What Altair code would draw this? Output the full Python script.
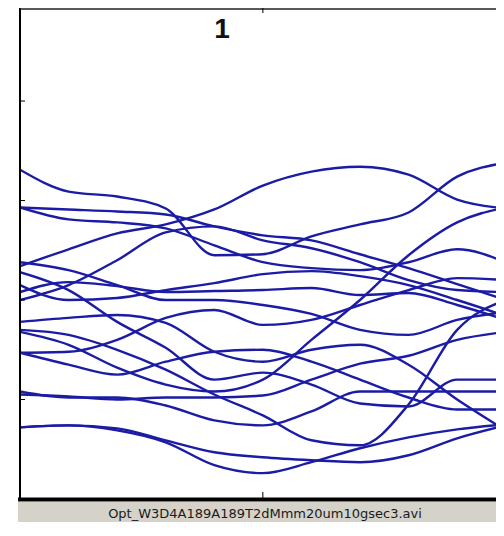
import altair as alt
import pandas as pd

# time samples (x axis, 0..100, tick at 50)
t = [0, 10, 20, 30, 40, 50, 60, 70, 80, 90, 100]

# trajectories (y axis 0..50, ticks at 10, 20, 30, 40)
tracks = {
    "A":   [33.1, 30.9, 30.4, 29.2, 24.5, 24.6, 26.4, 27.6, 28.8, 32.4, 33.8],
    "B":   [23.4, 25.1, 26.7, 27.6, 29.1, 31.5, 32.9, 33.4, 32.6, 30.1, 29.2],
    "C":   [29.3, 29.1, 28.9, 28.6, 27.4, 26.5, 26.0, 24.6, 23.2, 21.6, 20.0],
    "D":   [29.3, 28.1, 27.8, 27.2, 25.5, 23.8, 23.2, 23.0, 23.8, 25.1, 23.8],
    "E":   [20.0, 21.5, 24.0, 26.8, 27.4, 26.0, 25.2, 23.8, 22.0, 21.0, 20.8],
    "F":   [16.8, 15.5, 13.2, 11.5, 10.8, 12.0, 16.0, 20.0, 24.5, 27.8, 29.3],
    "M2":  [22.8, 21.0, 17.8, 15.2, 12.0, 12.7, 11.5, 9.6, 9.3, 12.0, 12.0],
    "M1":  [17.8, 18.2, 18.5, 17.7, 14.8, 13.8, 15.0, 15.5, 13.5, 10.0, 6.9],
    "M3":  [10.5, 10.3, 10.0, 10.2, 10.2, 10.4, 12.0, 13.6, 14.4, 16.0, 16.8],
    "Lb3": [10.8, 10.2, 10.2, 9.4, 7.9, 7.4, 8.8, 10.8, 10.8, 10.8, 10.8],
    "Lb1": [7.2, 7.4, 6.9, 5.7, 3.4, 2.6, 3.7, 5.1, 6.2, 7.0, 7.5],
    "Lb2": [7.2, 7.4, 7.1, 5.9, 4.7, 4.2, 3.9, 3.7, 4.4, 6.1, 7.4],
    "H1":  [21.5, 20.0, 20.2, 21.0, 21.7, 22.6, 22.9, 22.4, 21.5, 20.0, 18.4],
    "H2":  [20.8, 21.8, 21.4, 20.8, 20.9, 21.0, 21.2, 20.5, 20.7, 19.5, 18.0],
    "H3":  [23.8, 23.0, 21.5, 20.0, 20.0, 19.5, 18.6, 17.0, 16.5, 18.0, 18.8],
    "T1":  [14.7, 14.8, 16.0, 18.2, 19.0, 17.5, 18.0, 19.5, 21.0, 22.2, 22.0],
    "G":   [17.0, 16.5, 15.0, 13.0, 10.5, 8.4, 5.9, 5.4, 9.5, 17.0, 20.0],
    "R":   [14.7, 13.5, 12.5, 13.8, 14.8, 15.0, 13.8, 12.0, 10.2, 9.0, 9.0],
}

y_ticks = [10, 20, 30, 40]
x_ticks = [50]
title_text = "1"
caption = "Opt_W3D4A189A189T2dMmm20um10gsec3.avi"

rows = []
for name, ys in tracks.items():
    for tv, yv in zip(t, ys):
        rows.append({"track": name, "t": tv, "y": yv})
df = pd.DataFrame(rows)

W, H = 476, 491
xs = alt.Scale(domain=[0, 98], nice=False, zero=False)
ys_ = alt.Scale(domain=[0, 49.35], nice=False, zero=False)

one = pd.DataFrame({"k": [0]})

bar = alt.Chart(one).mark_rect(color="#d5d2ca").encode(
    x=alt.value(-2), x2=alt.value(W), y=alt.value(494), y2=alt.value(516)
)

lines = alt.Chart(df).mark_line(
    interpolate="monotone", clip=True, strokeWidth=2.4, color="#1b1ba6"
).encode(
    x=alt.X("t:Q", scale=xs, axis=None),
    y=alt.Y("y:Q", scale=ys_, axis=None),
    detail="track:N",
)

left_frame = alt.Chart(one).mark_rule(color="#000000", strokeWidth=2).encode(
    x=alt.value(0), y=alt.value(0), y2=alt.value(492)
)
top_frame = alt.Chart(one).mark_rule(color="#222222", strokeWidth=1.5).encode(
    x=alt.value(0), x2=alt.value(W), y=alt.value(1)
)
bottom_frame = alt.Chart(one).mark_rule(color="#000000", strokeWidth=4).encode(
    x=alt.value(-2), x2=alt.value(W), y=alt.value(491.5)
)

yt = alt.Chart(pd.DataFrame({"v": y_ticks})).mark_rule(color="#000000", strokeWidth=1).encode(
    y=alt.Y("v:Q", scale=ys_, axis=None), x=alt.value(0), x2=alt.value(5)
)
xt_top = alt.Chart(pd.DataFrame({"v": x_ticks})).mark_rule(color="#000000", strokeWidth=1).encode(
    x=alt.X("v:Q", scale=xs, axis=None), y=alt.value(0), y2=alt.value(5)
)
xt_bot = alt.Chart(pd.DataFrame({"v": x_ticks})).mark_rule(color="#000000", strokeWidth=1).encode(
    x=alt.X("v:Q", scale=xs, axis=None), y=alt.value(484), y2=alt.value(491)
)

title = alt.Chart(pd.DataFrame({"s": [title_text]})).mark_text(
    font="Liberation Sans", fontSize=28, fontWeight="bold", color="#111111",
    align="center", baseline="alphabetic"
).encode(text="s:N", x=alt.value(202), y=alt.value(30))

cap = alt.Chart(pd.DataFrame({"s": [caption]})).mark_text(
    font="DejaVu Sans", fontSize=13, color="#1a1a1a", align="center", baseline="alphabetic"
).encode(text="s:N", x=alt.value(245), y=alt.value(510))

chart = alt.layer(
    bar, lines, left_frame, top_frame, bottom_frame, yt, xt_top, xt_bot, title, cap
).properties(
    width=W, height=H,
    autosize=alt.AutoSizeParams(type="none"),
    padding={"left": 12, "top": 0, "right": 0, "bottom": 23},
    background="#ffffff",
).configure_view(stroke=None)

chart.save("out.html", embed_options={"renderer": "svg", "actions": False})
